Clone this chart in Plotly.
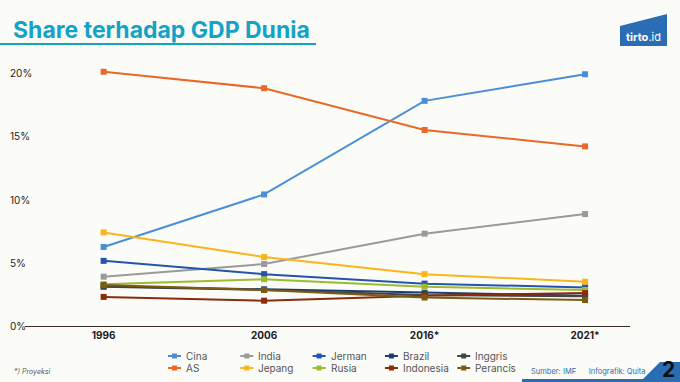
import plotly.graph_objects as go

years = ["1996", "2006", "2016*", "2021*"]
y_ticks = [0, 5, 10, 15, 20]
y_tick_labels = ["0%", "5%", "10%", "15%", "20%"]

cina = [6.25, 10.4, 17.8, 19.9]
india = [3.9, 4.9, 7.3, 8.85]
jerman = [5.15, 4.1, 3.35, 3.05]
brazil = [3.15, 2.9, 2.6, 2.4]
inggris = [3.1, 2.85, 2.45, 2.35]
as_ = [20.1, 18.8, 15.5, 14.2]
jepang = [7.4, 5.45, 4.1, 3.5]
rusia = [3.3, 3.7, 3.1, 2.85]
indonesia = [2.3, 2.0, 2.4, 2.6]
perancis = [3.25, 2.85, 2.25, 2.05]

row1 = [("Cina", cina, "#4a8fd6"), ("India", india, "#9a9a9a"), ("Jerman", jerman, "#2454ad"),
        ("Brazil", brazil, "#1c3d72"), ("Inggris", inggris, "#454545")]
row2 = [("AS", as_, "#e8692a"), ("Jepang", jepang, "#fbb41c"), ("Rusia", rusia, "#9dbb2f"),
        ("Indonesia", indonesia, "#8b2a0c"), ("Perancis", perancis, "#7b5b12")]

BG = "#fbfbf8"
FONT = "Inter"
W, H = 680, 382
ML, MR, MT, MB = 25, 50, 60, 56
PW, PH = W - ML - MR, H - MT - MB


def px(x):
    return (x - ML) / PW


def py(y):
    return (H - MB - y) / PH


fig = go.Figure()
xs = list(range(len(years)))
for rows in (row1, row2):
    for name, vals, col in rows:
        fig.add_trace(go.Scatter(
            x=xs, y=vals, name=name, mode="lines+markers", showlegend=False,
            line=dict(color=col, width=2), marker=dict(symbol="square", size=6, color=col)))

# legend (two rows of five, compact symbols as in the reference)
LEG_X0, LEG_DX = 168, 72.3
for r, (rows, ly) in enumerate(((row1, 356), (row2, 368))):
    for c, (name, vals, col) in enumerate(rows):
        lx = LEG_X0 + c * LEG_DX
        fig.add_shape(type="line", xref="paper", yref="paper", x0=px(lx), x1=px(lx + 13),
                      y0=py(ly), y1=py(ly), line=dict(color=col, width=2))
        fig.add_shape(type="rect", xref="paper", yref="paper", x0=px(lx + 4), x1=px(lx + 9),
                      y0=py(ly + 2.5), y1=py(ly - 2.5), fillcolor=col, line=dict(width=0))
        fig.add_annotation(x=px(lx + 16), xref="paper", y=py(ly), yref="paper", text=name,
                           showarrow=False, xanchor="left", yanchor="middle",
                           font=dict(size=10, color="#555", family=FONT))

fig.update_layout(
    width=W, height=H, paper_bgcolor=BG, plot_bgcolor=BG,
    margin=dict(l=ML, r=MR, t=MT, b=MB, autoexpand=False),
    font=dict(family=FONT, color="#222"),
    showlegend=False,
)
fig.update_xaxes(range=[-0.49, 3.28], tickvals=xs, ticktext=years, showgrid=False, zeroline=False,
                 showline=True, linecolor="#3a2a20", linewidth=1.2, ticks="",
                 tickfont=dict(size=10, color="#222", family=FONT, weight="bold"))
fig.update_yaxes(range=[0, 21.03], showgrid=False, zeroline=False, showticklabels=False,
                 tickvals=y_ticks)
for v, t in zip(y_ticks, y_tick_labels):
    fig.add_annotation(x=px(8), xref="paper", y=v, yref="y", text=t, showarrow=False,
                       xanchor="left", yanchor="middle", font=dict(size=10, color="#222", family=FONT))

# title
fig.add_annotation(x=px(11), xref="paper", y=py(30), yref="paper",
                   text="<b>Share terhadap GDP Dunia</b>", showarrow=False, xanchor="left",
                   yanchor="middle", font=dict(size=23, color="#13a3c6", family=FONT, weight=900))
fig.add_shape(type="line", xref="paper", yref="paper", x0=px(0), x1=px(316),
              y0=py(44), y1=py(44), line=dict(color="#13a3c6", width=2))
# logo
fig.add_shape(type="path", xref="paper", yref="paper",
              path="M {x0} {y0} L {x1} {y0} L {x1} {y2} L {x0} {y1} Z".format(
                  x0=px(620), x1=px(667), y0=py(46), y1=py(26), y2=py(14)),
              fillcolor="#2b6db4", line=dict(width=0))
fig.add_annotation(x=px(643), xref="paper", y=py(37), yref="paper", xanchor="center",
                   yanchor="middle", text="<b>tirto</b>.id", showarrow=False,
                   font=dict(size=11, color="white", family=FONT))
# footer
fig.add_annotation(x=px(12), xref="paper", y=py(371), yref="paper",
                   text="<i>*) Proyeksi</i>", showarrow=False, xanchor="left", yanchor="middle",
                   font=dict(size=7, color="#555", family=FONT))
fig.add_annotation(x=px(529), xref="paper", y=py(371), yref="paper",
                   text="Sumber: IMF      Infografik: Quita", showarrow=False, xanchor="left",
                   yanchor="middle", font=dict(size=7.5, color="#2b6db4", family=FONT))
fig.add_shape(type="path", xref="paper", yref="paper",
              path="M {a} {b} L {c} {b} L {c} {d} L {e} {d} L {f} {g} L {a} {g} Z".format(
                  a=px(522), b=py(383), c=px(681), d=py(362), e=px(660), f=px(643), g=py(379)),
              fillcolor="#2b6db4", line=dict(width=0))
fig.add_annotation(x=px(676), xref="paper", y=py(369), yref="paper", xanchor="right",
                   yanchor="middle", text="<b>2</b>", showarrow=False, borderpad=0,
                   font=dict(size=21, color="#111", family=FONT, weight=900))

fig.write_html("out.html", config={"displayModeBar": False},
               post_script="document.body.style.margin='0';document.body.style.padding='0';")
